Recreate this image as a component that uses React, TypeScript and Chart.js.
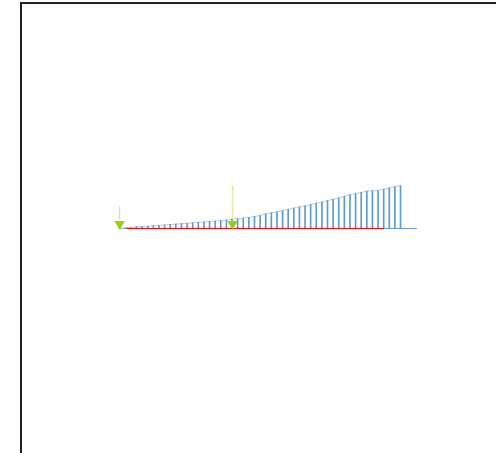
import React, { useEffect, useRef } from "react";
import { Chart, registerables } from "chart.js";

Chart.register(...registerables);

const stations = Array.from({ length: 51 }, (_, i) => i);
const heights = [
  0, 0.6, 1, 1.7, 2, 2.4, 2.8, 3.2, 3.6, 4, 4.5, 5, 5.3, 5.8, 6.3, 6.8, 7.2, 7.6, 8, 8.6, 9.6,
  10, 10.7, 11.3, 12.3, 13.3, 15, 16, 17, 18.3, 19.7, 21, 22, 23.3, 24.7, 26, 27, 28.7, 30, 31.3,
  33, 34.7, 35.7, 37, 38.3, 38.7, 39, 40.3, 41.7, 42.7, 44,
];
const baselineSpan = [0, 52.9];
const redSpan = [1.2, 47];
const arrowStations = [0, 20.1];
const arrowTips = [0, 0];
const arrowHeadTops = [9.5, 9.5];
const arrowTails = [22.5, 44.5];

const BLUE = "#5b9bd5";
const PALE_BLUE = "#b4cfea";
const RED = "#ff0000";
const GREEN = "#9bcf06";

export default function App() {
  const ref = useRef<HTMLCanvasElement>(null);
  useEffect(() => {
    const chart = new Chart(ref.current!, {
      type: "bar",
      data: {
        datasets: [
          {
            type: "line",
            data: arrowStations.map((s, i) => ({ x: s, y: arrowHeadTops[i] - 5 })),
            showLine: false,
            pointStyle: "triangle",
            rotation: 180,
            pointRadius: 6,
            pointBackgroundColor: GREEN,
            pointBorderWidth: 0,
            order: 0,
          },
          {
            type: "line",
            data: [
              { x: arrowStations[0], y: arrowHeadTops[0] },
              { x: arrowStations[0], y: arrowTails[0] },
            ],
            borderColor: "#c6e26e",
            borderWidth: 1,
            pointRadius: 0,
            order: 1,
          },
          {
            type: "line",
            data: [
              { x: arrowStations[1], y: arrowHeadTops[1] },
              { x: arrowStations[1], y: arrowTails[1] },
            ],
            borderColor: "#dcecab",
            borderWidth: 1.5,
            pointRadius: 0,
            order: 1,
          },
          {
            type: "line",
            data: redSpan.map((x) => ({ x, y: 0 })),
            borderColor: RED,
            borderWidth: 1,
            pointRadius: 0,
            order: 2,
          },
          {
            type: "bar",
            data: stations.map((s, i) => ({ x: s, y: heights[i] })),
            backgroundColor: BLUE,
            barThickness: 1,
            order: 3,
          },
          {
            type: "line",
            data: stations.map((s, i) => ({ x: s, y: heights[i] })),
            borderColor: PALE_BLUE,
            borderWidth: 1,
            pointRadius: 0,
            tension: 0,
            order: 4,
          },
          {
            type: "line",
            data: baselineSpan.map((x) => ({ x, y: 0 })),
            borderColor: BLUE,
            borderWidth: 1,
            pointRadius: 0,
            order: 5,
          },
        ],
      },
      options: {
        animation: false,
        responsive: false,
        parsing: { xAxisKey: "x", yAxisKey: "y" },
        layout: { padding: 0 },
        plugins: { legend: { display: false }, tooltip: { enabled: false } },
        scales: {
          x: { type: "linear", display: false, min: -20.24, max: 65.93, offset: false },
          y: { type: "linear", display: false, min: -224.5, max: 228.5 },
        },
      },
    } as any);
    return () => chart.destroy();
  }, []);

  return (
    <div style={{ position: "fixed", left: 0, top: 0, width: 496, height: 453, overflow: "hidden", background: "#fff" }}>
      <canvas ref={ref} width={496} height={453} style={{ position: "absolute", left: 0, top: 0, width: 496, height: 453 }} />
      <div
        style={{
          position: "absolute",
          left: 20,
          top: 2,
          width: 600,
          height: 600,
          borderLeft: "2px solid #222",
          borderTop: "2px solid #222",
          boxSizing: "border-box",
        }}
      />
    </div>
  );
}
